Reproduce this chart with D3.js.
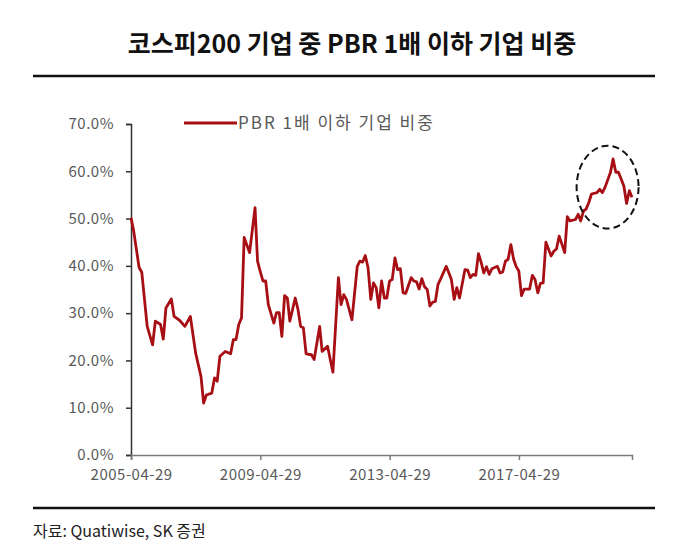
<!DOCTYPE html>
<html>
<head>
<meta charset="utf-8">
<script src="https://cdn.jsdelivr.net/npm/d3@7"></script>
<style>
  body { margin: 0; background: #fff; }
  svg { display: block; }
</style>
</head>
<body>
<svg></svg>
<script>
// monthly readings of the share (%) of KOSPI200 firms trading at PBR <= 1
const months = [
  "2005-04","2005-05","2005-07","2005-08","2005-10","2005-12","2006-01","2006-03","2006-04","2006-05",
  "2006-07","2006-08","2006-10","2006-12","2007-02","2007-04","2007-06","2007-07","2007-08","2007-10",
  "2007-11","2007-12","2008-01","2008-03","2008-05","2008-06","2008-07","2008-08","2008-09","2008-10",
  "2008-12","2009-02","2009-03","2009-04","2009-05","2009-06","2009-07","2009-09","2009-10","2009-11",
  "2009-12","2010-01","2010-02","2010-03","2010-05","2010-06","2010-07","2010-08","2010-09","2010-11",
  "2010-12","2011-02","2011-03","2011-05","2011-07","2011-09","2011-10","2011-11","2011-12","2012-02",
  "2012-04","2012-05","2012-06","2012-07","2012-08","2012-09","2012-10","2012-11","2012-12","2013-01",
  "2013-02","2013-03","2013-04","2013-05","2013-06","2013-07","2013-08","2013-09","2013-10","2013-12",
  "2014-01","2014-02","2014-03","2014-04","2014-05","2014-06","2014-07","2014-08","2014-09","2014-10",
  "2014-11","2015-01","2015-02","2015-03","2015-04","2015-05","2015-06","2015-08","2015-09","2015-10",
  "2015-11","2015-12","2016-01","2016-02","2016-03","2016-04","2016-05","2016-06","2016-08","2016-09",
  "2016-10","2016-11","2016-12","2017-01","2017-02","2017-03","2017-04","2017-05","2017-06","2017-08",
  "2017-09","2017-10","2017-11","2017-12","2018-01","2018-02","2018-04","2018-05","2018-06","2018-07",
  "2018-09","2018-10","2018-11","2019-01","2019-02","2019-03","2019-04","2019-05","2019-06","2019-07",
  "2019-09","2019-10","2019-11","2019-12","2020-02","2020-03","2020-04","2020-05","2020-06","2020-07",
  "2020-08","2020-09","2020-10"
];
const ratio = [
  50.2,47.4,39.7,38.6,27.2,23.3,28.3,27.6,24.5,31.1,
  33.0,29.3,28.5,27.2,29.3,21.6,16.6,11.0,12.7,13.1,
  16.3,15.6,20.9,21.9,21.4,24.4,24.4,27.6,29.0,46.0,
  42.8,52.3,41.0,38.8,36.8,36.8,31.8,27.9,30.1,30.1,
  25.1,33.7,33.2,28.3,33.2,30.8,27.2,26.9,21.4,21.2,
  20.2,27.2,21.9,23.0,17.5,37.5,31.8,33.9,32.9,28.6,
  39.9,41.0,40.8,42.2,39.6,32.9,36.4,35.4,31.1,36.8,
  33.2,33.2,36.8,37.1,41.7,39.2,39.4,34.3,34.2,37.5,
  36.8,36.6,35.1,37.3,35.6,35.0,31.5,32.3,32.5,36.1,
  37.3,39.9,38.5,37.1,32.9,35.4,33.2,39.2,39.1,37.5,
  38.2,38.0,42.6,40.7,38.5,39.8,38.2,39.4,39.9,38.5,
  38.7,41.0,41.4,44.5,41.4,39.9,38.9,33.7,35.1,35.1,
  38.0,37.1,34.3,36.3,36.4,45.0,42.1,43.1,43.6,46.3,
  42.8,50.4,49.5,49.8,50.9,49.5,51.6,52.0,53.4,55.2,
  55.5,56.2,55.5,56.6,59.8,62.6,59.8,59.8,58.3,56.9,
  53.2,55.9,54.5
];
const xTickLabels = ["2005-04-29", "2009-04-29", "2013-04-29", "2017-04-29"];
const yTicks = [0, 10, 20, 30, 40, 50, 60, 70];
// dashed circle round the 2019-2020 run-up (date span, value span in %)
const highlightDates = ["2019-02-10", "2021-01-10"];
const highlightValues = [47.9, 65.4];

const titleText = "코스피200 기업 중 PBR 1배 이하 기업 비중";
const legendText = "PBR 1배 이하 기업 비중";
const sourceText = "자료: Quatiwise, SK 증권";

const size = {w: 680, h: 549};
const plot = {l: 131, r: 632, t: 124, b: 455};
const svg = d3.select('svg').attr('width', size.w).attr('height', size.h);
const font = "'Noto Sans CJK KR', 'Noto Sans', sans-serif";
const gray = "#595959";

const parseDay = d3.timeParse("%Y-%m-%d");
const data = months.map((m, i) => ({date: parseDay(m + "-28"), value: ratio[i]}));

const x = d3.scaleTime()
  .domain([parseDay("2005-04-28"), parseDay("2020-10-28")])
  .range([plot.l, plot.r]);
const y = d3.scaleLinear().domain([0, 70]).range([plot.b, plot.t]);

// title + rules
svg.append('text')
  .attr('x', 352).attr('y', 53)
  .attr('text-anchor', 'middle')
  .style('font-family', font).style('font-weight', 700).style('font-size', '25px')
  .attr('fill', '#111')
  .text(titleText);
svg.append('line').attr('x1', 33).attr('x2', 655).attr('y1', 76).attr('y2', 76)
  .attr('stroke', '#111').attr('stroke-width', 2.5);
svg.append('line').attr('x1', 33).attr('x2', 655).attr('y1', 508).attr('y2', 508)
  .attr('stroke', '#111').attr('stroke-width', 2.5);
svg.append('text')
  .attr('x', 33).attr('y', 537)
  .style('font-family', font).style('font-size', '16px').attr('fill', '#222')
  .text(sourceText);

// axes
const yAxis = d3.axisLeft(y).tickValues(yTicks).tickSize(5).tickPadding(12)
  .tickFormat(d => d.toFixed(1) + "%");
const gy = svg.append('g').attr('transform', `translate(${plot.l},0)`).call(yAxis);

const xAxis = d3.axisBottom(x).tickValues(xTickLabels.map(parseDay)).tickSize(5).tickPadding(9)
  .tickFormat((d, i) => xTickLabels[i]);
const gx = svg.append('g').attr('transform', `translate(0,${plot.b})`).call(xAxis);

gy.select('.domain').attr('stroke', '#333').attr('stroke-width', 1.5);
gy.selectAll('.tick line').attr('stroke', '#333').attr('stroke-width', 1.5);
gx.select('.domain').attr('stroke', '#7a7a7a').attr('stroke-width', 1.5);
gx.selectAll('.tick line').attr('stroke', '#7a7a7a').attr('stroke-width', 1.5);
[gx, gy].forEach(g => {
  g.selectAll('.tick text').attr('fill', gray)
    .style('font-family', font).style('font-size', '15px')
    .style('letter-spacing', '0.5px');
});

// series line
const line = d3.line().x(d => x(d.date)).y(d => y(d.value));
svg.append('path').datum(data)
  .attr('d', line)
  .attr('fill', 'none')
  .attr('stroke', '#a70f15')
  .attr('stroke-width', 2.8)
  .attr('stroke-linejoin', 'round');

// highlight ellipse
const ex = highlightDates.map(s => x(parseDay(s)));
const ey = highlightValues.map(v => y(v));
svg.append('ellipse')
  .attr('cx', (ex[0] + ex[1]) / 2).attr('cy', (ey[0] + ey[1]) / 2)
  .attr('rx', Math.abs(ex[1] - ex[0]) / 2).attr('ry', Math.abs(ey[1] - ey[0]) / 2)
  .attr('fill', 'none').attr('stroke', '#111')
  .attr('stroke-width', 2).attr('stroke-dasharray', '7,4');

// legend
const legend = svg.append('g').attr('transform', `translate(184,${y(70) - 1})`);
legend.append('line').attr('x1', 0).attr('x2', 53).attr('y1', 0).attr('y2', 0)
  .attr('stroke', '#a70f15').attr('stroke-width', 2.8);
legend.append('text').attr('x', 54).attr('y', 6)
  .style('font-family', font).style('font-size', '17px').attr('fill', gray)
  .style('letter-spacing', '2px')
  .text(legendText);
</script>
</body>
</html>
